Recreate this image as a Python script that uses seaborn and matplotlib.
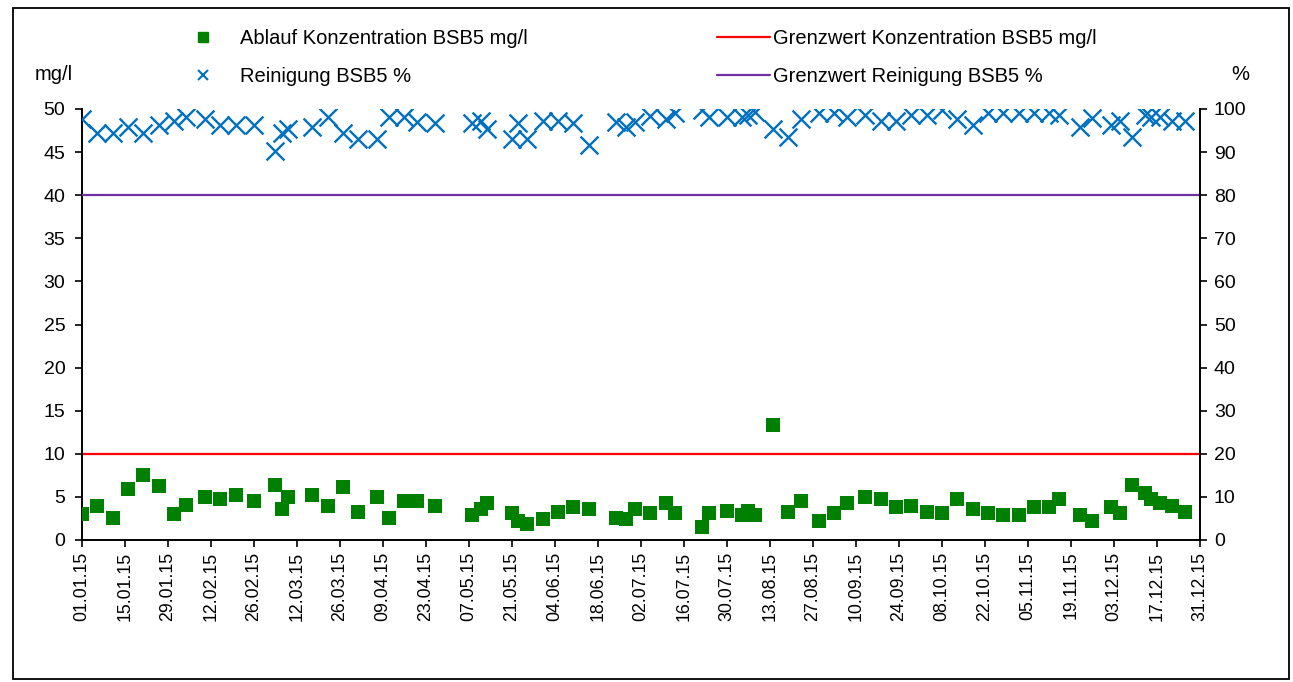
import matplotlib
matplotlib.use("Agg")
import matplotlib.pyplot as plt
import matplotlib.dates as mdates
from matplotlib.lines import Line2D
from matplotlib.patches import Rectangle
import numpy as np
import pandas as pd
import seaborn as sns

# Messdaten 2015: Ablauf BSB5 (mg/l) und Reinigungsleistung BSB5 (%)
datum = [
    "2015-01-01", "2015-01-06", "2015-01-11", "2015-01-16", "2015-01-21", "2015-01-26", "2015-01-31", "2015-02-04", "2015-02-10", "2015-02-15",
    "2015-02-20", "2015-02-26", "2015-03-05", "2015-03-07", "2015-03-09", "2015-03-17", "2015-03-22", "2015-03-27", "2015-04-01", "2015-04-07",
    "2015-04-11", "2015-04-16", "2015-04-20", "2015-04-26", "2015-05-08", "2015-05-11", "2015-05-13", "2015-05-21", "2015-05-23", "2015-05-26",
    "2015-05-31", "2015-06-05", "2015-06-10", "2015-06-15", "2015-06-24", "2015-06-27", "2015-06-30", "2015-07-05", "2015-07-10", "2015-07-13",
    "2015-07-22", "2015-07-24", "2015-07-30", "2015-08-04", "2015-08-06", "2015-08-08", "2015-08-14", "2015-08-19", "2015-08-23", "2015-08-29",
    "2015-09-03", "2015-09-07", "2015-09-13", "2015-09-18", "2015-09-23", "2015-09-28", "2015-10-03", "2015-10-08", "2015-10-13", "2015-10-18",
    "2015-10-23", "2015-10-28", "2015-11-02", "2015-11-07", "2015-11-12", "2015-11-15", "2015-11-22", "2015-11-26", "2015-12-02", "2015-12-05",
    "2015-12-09", "2015-12-13", "2015-12-15", "2015-12-18", "2015-12-22", "2015-12-26",
]
ablauf_bsb5 = [
    3.0, 4.0, 2.6, 5.9, 7.5, 6.3, 3.0, 4.1, 5.0, 4.7,
    5.2, 4.5, 6.4, 3.6, 5.0, 5.2, 4.0, 6.1, 3.3, 5.0,
    2.6, 4.5, 4.5, 4.0, 2.9, 3.6, 4.3, 3.1, 2.2, 1.9,
    2.4, 3.3, 3.8, 3.6, 2.6, 2.4, 3.6, 3.1, 4.3, 3.1,
    1.5, 3.1, 3.4, 2.9, 3.4, 2.9, 13.3, 3.3, 4.5, 2.2,
    3.1, 4.3, 5.0, 4.7, 3.8, 4.0, 3.3, 3.1, 4.7, 3.6,
    3.1, 2.9, 2.9, 3.8, 3.8, 4.7, 2.9, 2.2, 3.8, 3.1,
    6.4, 5.4, 4.7, 4.3, 4.0, 3.3,
]
reinigung_bsb5 = [
    97.7, 94.5, 94.5, 95.9, 94.5, 96.4, 97.3, 98.2, 97.7, 96.4,
    96.4, 96.4, 90.2, 94.5, 95.4, 95.9, 98.2, 94.5, 93.1, 93.1,
    98.1, 98.1, 97.0, 96.7, 96.7, 97.1, 95.3, 93.1, 96.7, 93.1,
    97.3, 97.3, 96.7, 91.6, 97.0, 95.9, 97.0, 98.4, 97.7, 99.0,
    99.8, 98.1, 98.1, 98.1, 98.5, 99.3, 95.3, 93.4, 97.6, 99.0,
    99.0, 98.1, 98.5, 97.1, 97.1, 98.5, 98.5, 99.8, 97.6, 96.2,
    99.1, 99.0, 99.0, 99.0, 99.0, 98.6, 95.9, 97.8, 96.3, 97.3,
    93.4, 98.6, 98.2, 98.2, 97.1, 97.1,
]
grenzwert_konz = 10    # mg/l
grenzwert_rein = 80    # %

labels = [
    "Ablauf Konzentration BSB5 mg/l",
    "Reinigung BSB5 %",
    "Grenzwert Konzentration BSB5 mg/l",
    "Grenzwert Reinigung BSB5 %",
]

GREEN = "#008000"
BLUE = "#0070C0"
RED = "#FF0000"
PURPLE = "#7030A0"
FS_LEG = 14.5
FS_Y = 14
FS_X = 12.8

df = pd.DataFrame({
    "datum": pd.to_datetime(datum),
    "ablauf": ablauf_bsb5,
    "reinigung": reinigung_bsb5,
})

sns.set_theme(style="ticks")
plt.rcParams["font.family"] = ["Liberation Sans", "DejaVu Sans"]

W, H = 1293, 682
fig = plt.figure(figsize=(W / 100, H / 100), dpi=100)
ax = fig.add_axes([82 / W, 1 - 540 / H, (1200 - 82) / W, (540 - 109) / H])
ax2 = ax.twinx()

# Grenzwerte
ax.axhline(grenzwert_konz, color=RED, lw=1.6, zorder=1)
ax2.axhline(grenzwert_rein, color=PURPLE, lw=1.6, zorder=1)

# Messwerte
sns.scatterplot(data=df, x="datum", y="ablauf", ax=ax, marker="s", s=88,
                color=GREEN, linewidth=0, legend=False, zorder=3)
sns.scatterplot(data=df, x="datum", y="reinigung", ax=ax2, marker="x", s=165,
                color=BLUE, linewidth=1.7, legend=False, zorder=3)

# Achsen
start, end = pd.Timestamp("2015-01-01"), pd.Timestamp("2015-12-31")
ax.set_xlim(start, end)
ax.set_xticks(pd.date_range(start, end, freq="14D"))
ax.xaxis.set_major_formatter(mdates.DateFormatter("%d.%m.%y"))
ax.set_ylim(0, 50)
ax.set_yticks(np.arange(0, 51, 5))
ax2.set_ylim(0, 100)
ax2.set_yticks(np.arange(0, 101, 10))
ax.set_xlabel("")
ax.set_ylabel("")
ax2.set_ylabel("")

for spine in ["top", "right"]:
    ax.spines[spine].set_visible(False)
for spine in ["top", "left", "bottom"]:
    ax2.spines[spine].set_visible(False)
for a in (ax, ax2):
    for sp in a.spines.values():
        sp.set_color("black")
        sp.set_linewidth(1.4)

ax.tick_params(axis="x", direction="out", length=5, width=1.2, color="black",
               labelsize=FS_X, labelcolor="black", pad=3.5, labelrotation=90)
ax.tick_params(axis="y", direction="out", length=5, width=1.2, color="black",
               labelsize=FS_Y, labelcolor="black", pad=7)
ax2.tick_params(axis="y", direction="out", length=5, width=1.2, color="black",
                labelsize=FS_Y, labelcolor="black", pad=5)

# Einheiten
fig.text(54 / W, 1 - 75 / H, "mg/l", ha="center", va="center", fontsize=FS_LEG, color="black")
fig.text(1240 / W, 1 - 75 / H, "%", ha="center", va="center", fontsize=FS_LEG, color="black")

# Legende
h_abl = Line2D([], [], ls="none", marker="s", color=GREEN, markersize=7.5)
h_rei = Line2D([], [], ls="none", marker="x", color=BLUE, markersize=7.5, mew=1.5)
h_gk = Line2D([], [], color=RED, lw=1.6)
h_gr = Line2D([], [], color=PURPLE, lw=1.6)

common = dict(loc="upper left", frameon=False, fontsize=FS_LEG, borderpad=0,
              borderaxespad=0, labelspacing=0.9, labelcolor="black")
fig.legend([h_abl, h_rei], labels[:2], bbox_to_anchor=(183 / W, 1 - 29.5 / H),
           handlelength=2.0, handletextpad=0.85, **common)
fig.legend([h_gk, h_gr], labels[2:], bbox_to_anchor=(717 / W, 1 - 29.5 / H),
           handlelength=2.64, handletextpad=0.15, **common)

# Rahmen um das Diagramm
fig.add_artist(Rectangle((13 / W, 1 - 679 / H), (1289 - 13) / W, (679 - 8) / H,
                         transform=fig.transFigure, fill=False,
                         edgecolor="black", lw=1.3))

fig.savefig("out.png", dpi=100)
